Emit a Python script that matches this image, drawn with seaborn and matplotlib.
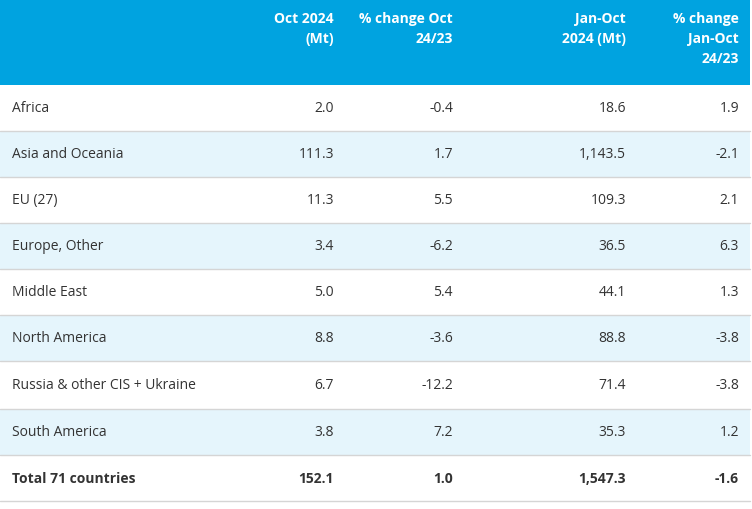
import matplotlib
matplotlib.use("Agg")
import matplotlib.pyplot as plt
import seaborn as sns

sns.set_theme(style="white")

regions = ["Africa", "Asia and Oceania", "EU (27)", "Europe, Other", "Middle East",
           "North America", "Russia & other CIS + Ukraine", "South America", "Total 71 countries"]
oct_2024 = ["2.0", "111.3", "11.3", "3.4", "5.0", "8.8", "6.7", "3.8", "152.1"]
pct_oct = ["-0.4", "1.7", "5.5", "-6.2", "5.4", "-3.6", "-12.2", "7.2", "1.0"]
jan_oct = ["18.6", "1,143.5", "109.3", "36.5", "44.1", "88.8", "71.4", "35.3", "1,547.3"]
pct_jan_oct = ["1.9", "-2.1", "2.1", "6.3", "1.3", "-3.8", "-3.8", "1.2", "-1.6"]
headers = ["Oct 2024\n(Mt)", "% change Oct\n24/23", "Jan-Oct\n2024 (Mt)", "% change\nJan-Oct\n24/23"]

W, H = 752, 510
fig = plt.figure(figsize=(W/100, H/100), dpi=100)
ax = fig.add_axes([0, 0, 1, 1])
ax.set_xlim(0, W); ax.set_ylim(H, 0); ax.axis("off")

font = "Open Sans"
blue = "#00A3E0"
ax.add_patch(plt.Rectangle((0, 0), 750, 86, color=blue, lw=0))
col_x = [334, 453, 626, 739]
for x, h in zip(col_x, headers):
    ax.text(x, 12, h, ha="right", va="top", color="white", fontweight="bold",
            fontsize=10, family=font, linespacing=1.55)

row_tops = [86, 132, 178, 224, 270, 316, 362, 410, 456, 502]
for i, r in enumerate(regions):
    y0, y1 = row_tops[i], row_tops[i+1]
    if i % 2 == 1:
        ax.add_patch(plt.Rectangle((0, y0), 750, y1-y0, color="#E5F5FC", lw=0))
    ax.plot([0, 750], [y1, y1], color="#D5D5D5", lw=1)
    yc = (y0 + y1) / 2
    bold = "bold" if i == len(regions)-1 else "normal"
    ax.text(12, yc, r, ha="left", va="center", fontsize=10, family=font, color="#333333", fontweight=bold)
    for x, v in zip(col_x, [oct_2024[i], pct_oct[i], jan_oct[i], pct_jan_oct[i]]):
        ax.text(x, yc, v, ha="right", va="center", fontsize=10, family=font, color="#333333", fontweight=bold)

fig.savefig("out.png", dpi=100)
